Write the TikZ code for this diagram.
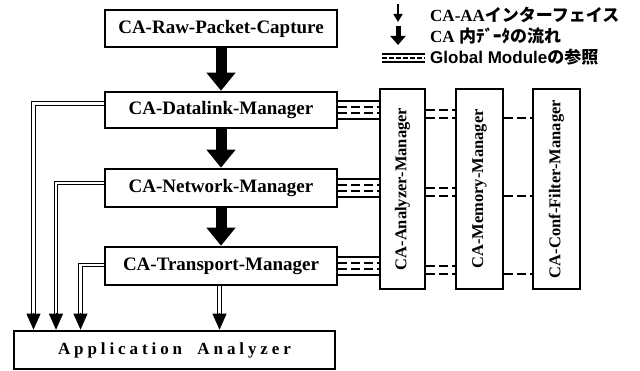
\documentclass[tikz,border=0pt]{standalone}
\usepackage{fontspec}
\setmainfont{Liberation Serif}
\newfontfamily\jp{Noto Sans CJK JP}
\newfontfamily\gsans{Liberation Sans}
\usetikzlibrary{arrows.meta,calc}
\begin{document}
\begin{tikzpicture}[x=1pt,y=-1pt,line join=miter,
  box/.style={draw, line width=2.6pt, font=\bfseries\fontsize{19}{20}\selectfont, inner sep=0pt, minimum width=232pt, minimum height=37pt},
  vbox/.style={draw, line width=2.6pt, rotate=90, font=\bfseries\fontsize{16.5}{18}\selectfont, inner sep=0pt, minimum width=200pt, minimum height=45pt},
  bigar/.style={line width=11pt, -{Triangle[length=18pt,width=28pt]}},
  dbl/.style={line width=1.1pt, double distance=2.4pt, shorten >=15pt},
  tipar/.style={line width=0.8pt, -{Triangle[length=16pt,width=14pt]}},
  gl/.style={line width=1.8pt},
  gdash/.style={gl, dash pattern=on 9pt off 4pt},
  legend/.style={anchor=west, inner sep=0pt, font=\bfseries\fontsize{17}{18}\selectfont}
]
\useasboundingbox (0,0) rectangle (640,371);

% main boxes
\node[box] (raw) at (221,28.5) {CA-Raw-Packet-Capture};
\node[box, minimum height=36pt] (dl) at (221,110) {CA-Datalink-Manager};
\node[box, minimum height=38pt] (nw) at (221,188) {CA-Network-Manager};
\node[box, minimum height=38pt] (tp) at (221,266) {CA-Transport-Manager};
\node[box, minimum width=321pt, minimum height=38pt, font=\bfseries\fontsize{17}{18}\selectfont\addfontfeature{LetterSpace=23}] (app) at (174.5,350) {Application\hspace{0.9em}Analyzer};

% global modules (rotated: north = left side, south = right side)
\node[vbox] (am) at (402.5,189) {CA-Analyzer-Manager};
\node[vbox, minimum height=47pt] (mm) at (479.5,189) {CA-Memory-Manager};
\node[vbox, minimum height=47pt] (cf) at (556.5,189) {CA-Conf-Filter-Manager};

% data flow
\draw[bigar] (raw.south) -- (dl.north);
\draw[bigar] (dl.south) -- (nw.north);
\draw[bigar] (nw.south) -- (tp.north);

% CA-AA interfaces
\coordinate (x1) at (33.5,0);
\coordinate (x2) at (56,0);
\coordinate (x3) at (80.5,0);
\coordinate (x4) at (219.5,0);
\coordinate (t1) at (app.north -| x1);
\coordinate (t2) at (app.north -| x2);
\coordinate (t3) at (app.north -| x3);
\coordinate (t4) at (app.north -| x4);
\draw[dbl] ([yshift=6.5pt]dl.west) -| (t1);
\draw[dbl] ([yshift=5pt]nw.west) -| (t2);
\draw[dbl] ([yshift=1pt]tp.west) -| (t3);
\draw[dbl] (tp.south -| x4) -- (t4);
\foreach \t in {t1,t2,t3,t4}{
  \draw[tipar] ([yshift=17pt]\t) -- (\t);
}

% global module references
\foreach \n in {dl,nw,tp}{
  \foreach \o/\s in {9/gl,3/gdash,-3/gdash,-9/gl}{
    \path ([yshift=\o pt]\n.east) coordinate (g);
    \draw[\s] (g) -- (g -| am.north);
  }
  \foreach \o in {0,-8}{
    \path ([yshift=\o pt]\n.east) coordinate (h);
    \draw[gdash] (h -| am.south) -- (h -| mm.north);
  }
  \path ([yshift=-8pt]\n.east) coordinate (k);
  \draw[gdash] (k -| mm.south) -- (k -| cf.north);
}

% legend
\coordinate (l1a) at (398,4);
\coordinate (l1b) at (398,22);
\draw[line width=1.6pt, -{Triangle[length=8pt,width=9pt]}] (l1a) -- (l1b);
\coordinate (l2a) at (398,26);
\coordinate (l2b) at (398,45);
\draw[line width=5pt, -{Triangle[length=9pt,width=15pt]}] (l2a) -- (l2b);
\coordinate (l3a) at (382,58);
\coordinate (l3b) at (425,58);
\draw[gl] ([yshift=4pt]l3a) -- ([yshift=4pt]l3b);
\draw[gl, dash pattern=on 5pt off 2pt] (l3a) -- (l3b);
\draw[gl] ([yshift=-4pt]l3a) -- ([yshift=-4pt]l3b);
\node[legend] (lg1) at (430,15) {CA-AA{\jp インターフェイス}};
\node[legend] (lg2) at (430,36) {CA {\jp 内ﾃﾞｰﾀの流れ}};
\node[legend] (lg3) at (430,57) {{\gsans Global Module}{\jp の参照}};
\end{tikzpicture}
\end{document}
